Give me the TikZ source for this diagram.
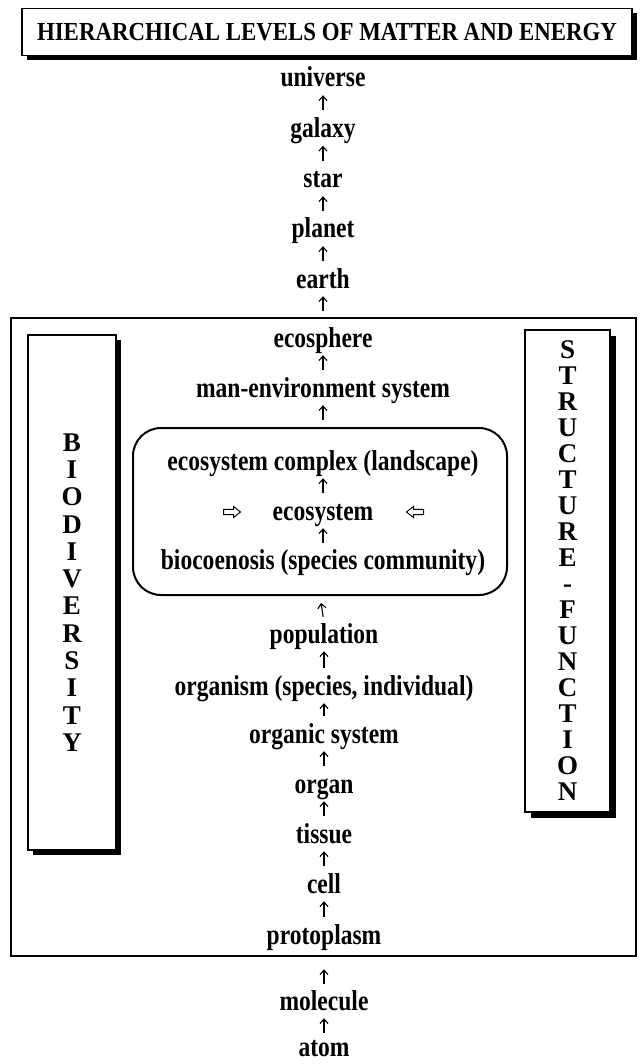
\documentclass[tikz,border=0pt]{standalone}
\usepackage{fontspec}
\setmainfont{Liberation Serif}
\newfontfamily\bodyfont[FakeStretch=0.82]{Liberation Serif}
\newfontfamily\headfont[FakeStretch=0.88]{Liberation Serif}
\usetikzlibrary{arrows.meta,shadows}
\begin{document}
\begin{tikzpicture}[x=1pt,y=-1pt,
  lvl/.style={font=\bodyfont\bfseries\fontsize{28.7}{30}\selectfont, inner sep=0pt,
    text height=20pt, text depth=6pt, anchor=base},
  up/.style={-{Straight Barb[length=4.5pt,width=8pt]}, line width=1.1pt,
    shorten <=7pt, shorten >=2pt},
  shadowbox/.style={draw, fill=white, line width=1.4pt, inner sep=0pt,
    general shadow={fill=black, shadow xshift=#1, shadow yshift=-#1}},
  sideletters/.style={font=\bfseries\fontsize{27}{#1}\selectfont, align=center, inner sep=0pt},
  hollowarrow/.style={draw, fill=white, line width=1pt, line join=miter}
]
\useasboundingbox (0,0) rectangle (640,1064);

% title
\node[shadowbox=4.5pt, minimum width=610pt, minimum height=47pt] (titlebox) at (327,32) {};
\node[font=\headfont\bfseries\fontsize{26}{28}\selectfont, inner sep=0pt] (title) at (titlebox.center)
  {HIERARCHICAL LEVELS OF MATTER AND ENERGY};

% outer frame
\node[draw, line width=1.4pt, minimum width=625pt, minimum height=638pt, inner sep=0pt] (frame) at (323.5,637) {};

% side boxes
\node[shadowbox=5pt, minimum width=88pt, minimum height=515pt] (leftbox) at (72,592.5) {};
\node[sideletters=27.3pt] (biodiv) at (leftbox.center)
  {B\\I\\O\\D\\I\\V\\E\\R\\S\\I\\T\\Y};
\node[shadowbox=6pt, minimum width=85pt, minimum height=482pt] (rightbox) at (567.5,571) {};
\node[sideletters=26pt] (strfun) at (rightbox.center)
  {S\\T\\R\\U\\C\\T\\U\\R\\E\\-\\F\\U\\N\\C\\T\\I\\O\\N};

% ecosystem box
\node[draw, line width=2pt, rounded corners=28pt, minimum width=374pt, minimum height=167pt, inner sep=0pt] (ecobox) at (320,511.5) {};

% levels
\node[lvl] (universe) at (323,87) {universe};
\node[lvl] (galaxy) at (323,137.5) {galaxy};
\node[lvl] (star) at (323,188) {star};
\node[lvl] (planet) at (323,238) {planet};
\node[lvl] (earth) at (323,288) {earth};
\node[lvl] (ecosphere) at (323,347) {ecosphere};
\node[lvl] (manenv) at (323,397) {man-environment system};
\node[lvl] (ecocomplex) at (323,470) {ecosystem complex (landscape)};
\node[lvl] (ecosystem) at (323,520) {ecosystem};
\node[lvl] (biocoenosis) at (323,569) {biocoenosis (species community)};
\node[lvl] (population) at (324,643) {population};
\node[lvl] (organism) at (324,695) {organism (species, individual)};
\node[lvl] (organicsys) at (324,743) {organic system};
\node[lvl] (organ) at (324,793) {organ};
\node[lvl] (tissue) at (324,843) {tissue};
\node[lvl] (cell) at (324,893) {cell};
\node[lvl] (protoplasm) at (324,944) {protoplasm};
\node[lvl] (molecule) at (324,1010) {molecule};
\node[lvl] (atom) at (324,1056) {atom};

% hollow arrows pointing toward ecosystem
\draw[hollowarrow, shift={(232,512)}]
  (-8.5,-2.6) -- (1.5,-2.6) -- (1.5,-5.6) -- (8.5,0) -- (1.5,5.6) -- (1.5,2.6) -- (-8.5,2.6) -- cycle;
\draw[hollowarrow, shift={(415,512)}]
  (8.5,-2.6) -- (-1.5,-2.6) -- (-1.5,-5.6) -- (-8.5,0) -- (-1.5,5.6) -- (-1.5,2.6) -- (8.5,2.6) -- cycle;

% connectors
\draw[up] (galaxy.north) -- (universe.south);
\draw[up] (star.north) -- (galaxy.south);
\draw[up] (planet.north) -- (star.south);
\draw[up] (earth.north) -- (planet.south);
\draw[up, shorten <=16pt] (ecosphere.north) -- (earth.south);
\draw[up] (manenv.north) -- (ecosphere.south);
\draw[up, shorten <=30pt] (ecocomplex.north) -- (manenv.south);
\draw[up] (ecosystem.north) -- (ecocomplex.south);
\draw[up, shorten <=6pt] (biocoenosis.north) -- (ecosystem.south);
\draw[up, shorten <=6pt, shorten >=7pt] (population.north) -- (ecobox.south);
\draw[up] (organism.north) -- (population.south);
\draw[up] (organicsys.north) -- (organism.south);
\draw[up] (organ.north) -- (organicsys.south);
\draw[up] (tissue.north) -- (organ.south);
\draw[up] (cell.north) -- (tissue.south);
\draw[up] (protoplasm.north) -- (cell.south);
\draw[up, shorten <=6pt, shorten >=19pt] (molecule.north) -- (protoplasm.south);
\draw[up, shorten <=3pt] (atom.north) -- (molecule.south);
\end{tikzpicture}
\end{document}
